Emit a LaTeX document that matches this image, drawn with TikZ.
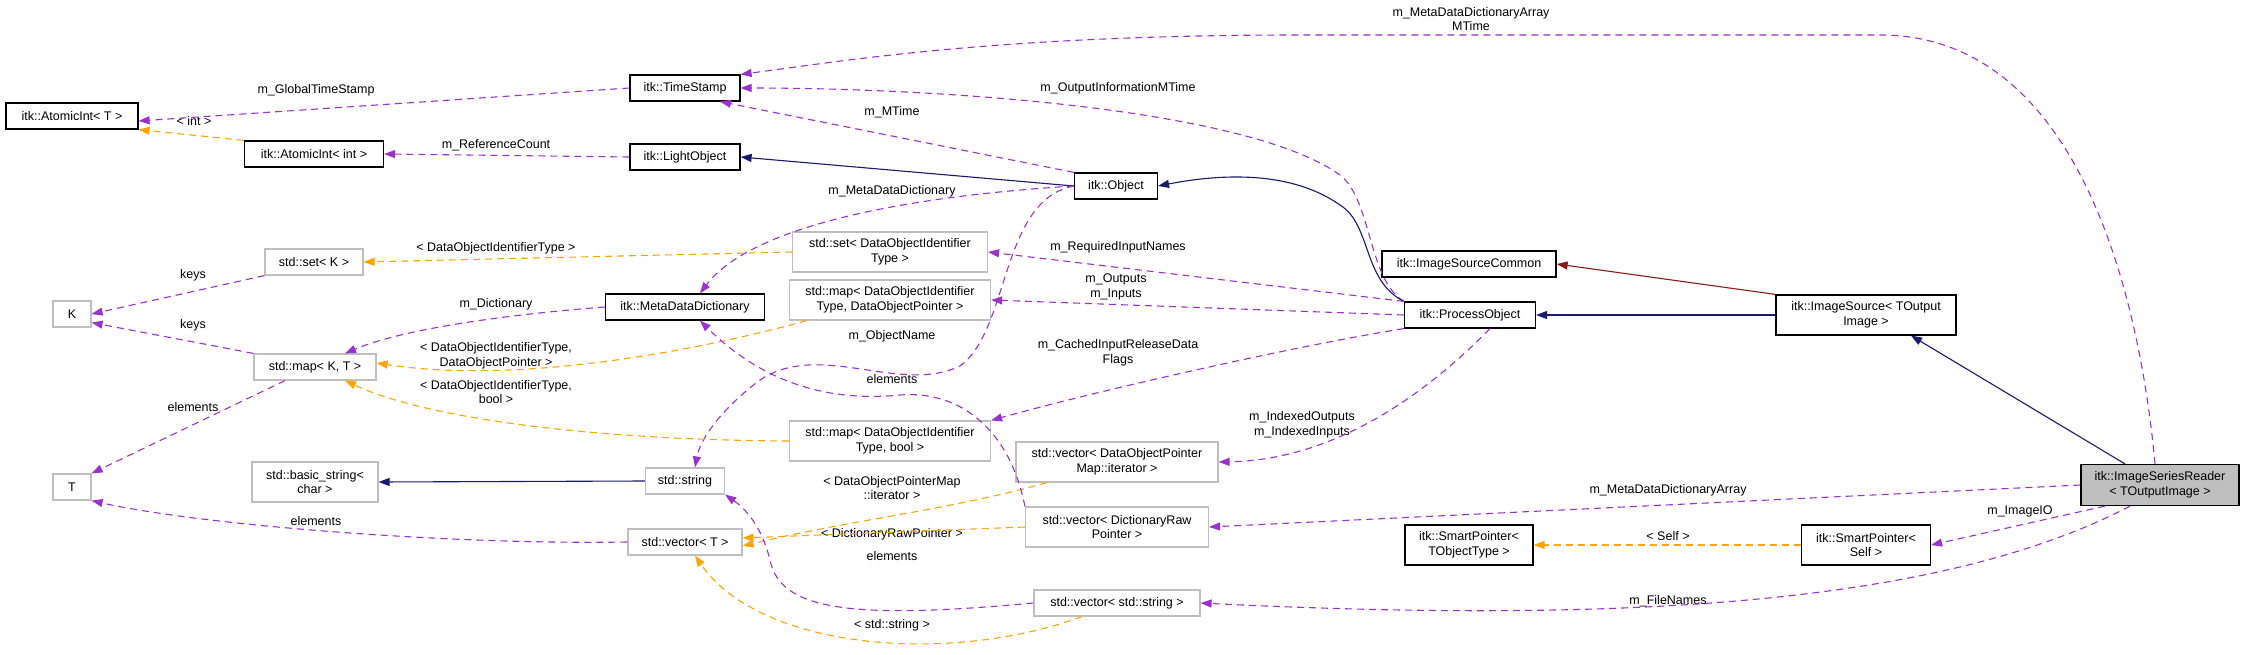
\documentclass[tikz,border=0pt]{standalone}
\usepackage{fontspec}
\setmainfont{Liberation Sans}
\usetikzlibrary{arrows.meta}
\definecolor{usecol}{HTML}{9A32CD}
\definecolor{tplcol}{HTML}{FFA500}
\definecolor{inhcol}{HTML}{191970}
\definecolor{redcol}{HTML}{8B1A1A}
\definecolor{extcol}{HTML}{BFBFBF}
\begin{document}
\begin{tikzpicture}[x=1pt,y=-1pt,
  every node/.style={font=\fontsize{12.5}{14.5}\selectfont, align=center, inner sep=0pt},
  cls/.style={draw=black, line width=1.2pt, fill=white, minimum height=26pt},
  ext/.style={draw=extcol, line width=1.2pt, fill=white, minimum height=26pt},
  hl/.style={draw=black, line width=1.2pt, fill=extcol},
  use/.style={draw=usecol, line width=1.1pt, dash pattern=on 7pt off 5pt, -{Triangle[length=11pt,width=8pt]}},
  tpl/.style={draw=tplcol, line width=1.1pt, dash pattern=on 7pt off 5pt, -{Triangle[length=11pt,width=8pt]}},
  inh/.style={draw=inhcol, line width=1.1pt, -{Triangle[length=11pt,width=8pt]}},
  inhred/.style={draw=redcol, line width=1.1pt, -{Triangle[length=11pt,width=8pt]}}]
\useasboundingbox (0,0) rectangle (2245,655);
\begin{scope}
\node[cls, minimum width=132pt] (atomicT) at (72,116) {itk::AtomicInt< T >};
\node[cls, minimum width=139pt] (atomicI) at (314,154) {itk::AtomicInt< int >};
\node[cls, minimum width=110pt] (stamp) at (685,88) {itk::TimeStamp};
\node[cls, minimum width=110pt] (light) at (685,157) {itk::LightObject};
\node[cls, minimum width=83pt] (object) at (1116,186) {itk::Object};
\node[cls, minimum width=159pt] (dict) at (685,307) {itk::MetaDataDictionary};
\node[ext, minimum width=98pt] (setK) at (314,262) {std::set< K >};
\node[ext, minimum width=38pt] (K) at (72,314) {K};
\node[ext, minimum width=122pt] (mapKT) at (315,367) {std::map< K, T >};
\node[ext, minimum width=38pt] (T) at (72,487) {T};
\node[ext, minimum width=126pt, minimum height=40pt] (bstring) at (315,482) {std::basic\_string<\\char >};
\node[ext, minimum width=79pt] (string) at (685,481) {std::string};
\node[ext, minimum width=114pt] (vecT) at (685,542) {std::vector< T >};
\node[ext, minimum width=195pt, minimum height=40pt] (setDOIT) at (890,252) {std::set< DataObjectIdentifier\\Type >};
\node[ext, minimum width=201pt, minimum height=40pt] (mapDOP) at (890,300) {std::map< DataObjectIdentifier\\Type, DataObjectPointer >};
\node[ext, minimum width=201pt, minimum height=40pt] (mapBool) at (890,441) {std::map< DataObjectIdentifier\\Type, bool >};
\node[ext, minimum width=202pt, minimum height=40pt] (vecIter) at (1117,462) {std::vector< DataObjectPointer\\Map::iterator >};
\node[ext, minimum width=183pt, minimum height=40pt] (vecRaw) at (1117,527) {std::vector< DictionaryRaw\\Pointer >};
\node[ext, minimum width=166pt] (vecStr) at (1117,603) {std::vector< std::string >};
\node[cls, minimum width=174pt] (common) at (1469,264) {itk::ImageSourceCommon};
\node[cls, minimum width=131pt] (process) at (1470,315) {itk::ProcessObject};
\node[cls, minimum width=128pt, minimum height=40pt] (smartT) at (1469,545) {itk::SmartPointer<\\TObjectType >};
\node[cls, minimum width=180pt, minimum height=40pt] (source) at (1866,315) {itk::ImageSource< TOutput\\Image >};
\node[cls, minimum width=129pt, minimum height=40pt] (smartS) at (1866,545) {itk::SmartPointer<\\Self >};
\node[hl, minimum width=158pt, minimum height=41pt] (reader) at (2160,485) {itk::ImageSeriesReader\\< TOutputImage >};
\end{scope}
\begin{scope}
\node (lGlobal) at (316,90) {m\_GlobalTimeStamp};
\node (lInt) at (194,121) {< int >};
\node (lRef) at (496,145) {m\_ReferenceCount};
\node (lDOIT) at (496,248) {< DataObjectIdentifierType >};
\node (lKeysA) at (193,275) {keys};
\node (lKeysB) at (193,325) {keys};
\node (lDict) at (496,304) {m\_Dictionary};
\node (lDOP) at (496,356) {< DataObjectIdentifierType,\\DataObjectPointer >};
\node (lBool) at (496,392) {< DataObjectIdentifierType,\\bool >};
\node (lElemA) at (193,407) {elements};
\node (lElemB) at (316,521) {elements};
\node (lArrayTime) at (1471,19) {m\_MetaDataDictionaryArray\\MTime};
\node (lInfo) at (1118,88) {m\_OutputInformationMTime};
\node (lMTime) at (892,112) {m\_MTime};
\node (lMeta) at (892,191) {m\_MetaDataDictionary};
\node (lReq) at (1118,247) {m\_RequiredInputNames};
\node (lIO) at (1116,287) {m\_Outputs\\m\_Inputs};
\node (lName) at (892,336) {m\_ObjectName};
\node (lCached) at (1118,353) {m\_CachedInputReleaseData\\Flags};
\node (lElemC) at (892,379) {elements};
\node (lIndexed) at (1302,425) {m\_IndexedOutputs\\m\_IndexedInputs};
\node (lIter) at (892,488) {< DataObjectPointerMap\\::iterator >};
\node (lRaw) at (892,534) {< DictionaryRawPointer >};
\node (lElemD) at (892,556) {elements};
\node (lStr) at (892,625) {< std::string >};
\node (lArray) at (1668,490) {m\_MetaDataDictionaryArray};
\node (lImageIO) at (2020,511) {m\_ImageIO};
\node (lSelf) at (1668,536) {< Self >};
\node (lFiles) at (1668,601) {m\_FileNames};
\end{scope}
\begin{scope}
\draw[use] (stamp.west) -- ([yshift=-5pt]atomicT.east);
\draw[tpl] (atomicI.north west) -- (atomicT.south east);
\draw[use] (light.west) -- (atomicI.east);
\draw[inh] (object.west) -- (light.east);
\draw[use] (object.north west) -- ([xshift=35pt]stamp.south);
\draw[use] (process.north west) .. controls (1368,280) and (1372,200) .. (1340,175) .. controls (1250,110) and (950,88) .. (stamp.east);
\draw[use] ([xshift=-5pt]reader.north) .. controls (2140,300) and (2080,35) .. (1880,35) -- (1300,35) .. controls (1000,35) and (850,60) .. (stamp.north east);
\draw[inh] (process.north west) .. controls (1362,280) and (1372,225) .. (1340,205) .. controls (1290,170) and (1220,174) .. (object.east);
\draw[use] (object.west) .. controls (850,200) and (740,240) .. ([xshift=15pt]dict.north);
\draw[use] (object.west) .. controls (1000,200) and (1010,330) .. (960,366) .. controls (900,395) and (820,340) .. (760,380) .. controls (720,410) and (700,440) .. ([xshift=10pt]string.north);
\draw[tpl] (setDOIT.west) -- (setK.east);
\draw[use] (setK.south west) -- (K.east);
\draw[use] (mapKT.north west) -- ([yshift=5pt]K.south east);
\draw[use] (dict.west) .. controls (500,315) and (400,330) .. ([xshift=30pt]mapKT.north);
\draw[tpl] ([xshift=18pt]mapDOP.south west) .. controls (700,350) and (520,385) .. ([yshift=4pt]mapKT.east);
\draw[tpl] (mapBool.west) .. controls (600,440) and (430,420) .. ([xshift=30pt]mapKT.south);
\draw[use] ([xshift=-30pt]mapKT.south) -- (T.north east);
\draw[use] (vecT.west) .. controls (450,545) and (200,525) .. (T.south east);
\draw[inh] (string.west) -- (bstring.east);
\draw[tpl] ([xshift=-70pt]vecIter.south) .. controls (950,510) and (850,520) .. ([yshift=-4pt]vecT.east);
\draw[tpl] (vecRaw.west) -- ([yshift=4pt]vecT.east);
\draw[tpl] ([xshift=-35pt]vecStr.south) .. controls (950,665) and (760,650) .. ([xshift=10pt]vecT.south);
\draw[use] (vecStr.west) .. controls (850,620) and (780,610) .. (770,560) .. controls (760,520) and (740,505) .. (string.south east);
\draw[use] (vecRaw.north west) .. controls (1010,430) and (960,390) .. (900,395) .. controls (800,405) and (740,360) .. ([xshift=15pt]dict.south);
\draw[use] (process.north west) -- (setDOIT.east);
\draw[use] (process.west) -- (mapDOP.east);
\draw[use] (process.south west) .. controls (1300,345) and (1100,390) .. (mapBool.north east);
\draw[use] ([xshift=20pt]process.south) .. controls (1420,400) and (1330,460) .. (vecIter.east);
\draw[inh] (source.west) -- (process.east);
\draw[inhred] (source.north west) -- (common.east);
\draw[inh] ([xshift=-35pt]reader.north) -- ([xshift=45pt]source.south);
\draw[use] (reader.west) -- (vecRaw.east);
\draw[use] ([xshift=-55pt]reader.south) -- (smartS.east);
\draw[tpl] (smartS.west) -- (smartT.east);
\draw[use] ([xshift=-30pt]reader.south) .. controls (1950,600) and (1650,625) .. (vecStr.east);
\end{scope}
\end{tikzpicture}
\end{document}
